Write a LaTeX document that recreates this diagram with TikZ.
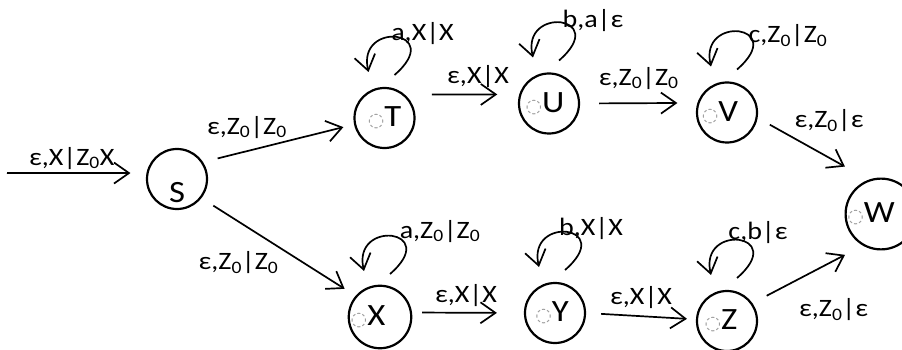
\documentclass[tikz,border=0pt]{standalone}
\usepackage{fontspec}
\setmainfont{Carlito}[FakeStretch=1.12]
\newfontfamily\dotfont{DejaVu Sans}
\usetikzlibrary{positioning, calc, arrows.meta}
\newcommand{\dotc}{{\dotfont\fontsize{19}{19}\selectfont\textcolor{gray!80}{◌}}}
\newcommand{\Zo}{Z\textsubscript{0}}

\begin{document}
\begin{tikzpicture}[x=1pt, y=-1pt,
    st/.style={draw, circle, line width=2.2pt, minimum size=60pt, inner sep=0pt, font=\fontsize{31}{31}\selectfont},
    arr/.style={-{Straight Barb[length=15pt, width=21pt]}, line width=1.7pt},
    lbl/.style={font=\fontsize{25}{25}\selectfont, inner sep=0pt},
    lp/.style={to path={([shift={(10,-43)}]\tikztostart.center) .. controls +(52,-45) and +(-12,-52) .. ([shift={(-16,-46)}]\tikztostart.center) \tikztonodes}},
]
\useasboundingbox (0,0) rectangle (902,350);

% states
\node[st] (S) at (177,179) {\raisebox{-14pt}[\height][\depth]{S}};
\node[st] (T) at (384.5,118) {\dotc T};
\node[st] (U) at (549,103.5) {\dotc U\kern8pt};
\node[st] (V) at (727,112.5) {\dotc V\kern14pt};
\node[st] (W) at (881,214) {\dotc W\kern20pt};
\node[st] (X) at (380,317) {\dotc X\kern24pt};
\node[st] (Y) at (555,313) {\dotc Y\kern6pt};
\node[st] (Z) at (727,321) {\dotc Z\kern12pt};

% start
\coordinate (in) at (7,173);
\draw[arr, shorten >=16pt] (in) -- node[lbl, midway, xshift=-5pt, yshift=15pt] {ε,X|\Zo X} (S.169);

% upper branch
\draw[arr, shorten <=15pt, shorten >=11pt] (S.33) -- node[lbl, pos=.29, yshift=24pt] {ε,\Zo|\Zo} (T.192);
\draw[arr, shorten <=27pt, shorten >=22pt] (T.49) -- node[lbl, midway, xshift=16pt, yshift=18pt] {ε,X|X} (U.163);
\draw[arr, shorten <=19pt, shorten >=20pt] (U.0) -- node[lbl, midway, yshift=25pt] {ε,\Zo|\Zo} (V.162);
\draw[arr, shorten <=14pt, shorten >=27pt] (V.350) -- node[lbl, midway, xshift=16pt, yshift=28pt] {ε,\Zo|ε} (W.110);

% lower branch
\draw[arr, shorten <=14pt, shorten >=13pt] (S.322) -- node[lbl, midway, xshift=-40pt, yshift=-16pt] {ε,\Zo|\Zo} (X.139);
\draw[arr, shorten <=10pt, shorten >=27pt] (X.8) -- node[lbl, midway, xshift=-2pt, yshift=17pt] {ε,X|X} (Y.180);
\draw[arr, shorten <=15pt, shorten >=9pt] (Y.0) -- node[lbl, midway, yshift=19pt] {ε,X|X} (Z.177);
\draw[arr, shorten <=16pt, shorten >=20pt] (Z.35) -- node[lbl, midway, xshift=26pt, yshift=-35pt] {ε,\Zo|ε} (W.240);

% loops
\draw[arr] (T) to[lp] node[lbl, pos=.5, xshift=26pt, yshift=4pt] {a,X|X} (T);
\draw[arr] (U) to[lp] node[lbl, pos=.5, xshift=32pt, yshift=2pt] {b,a|ε} (U);
\draw[arr] (V) to[lp] node[lbl, pos=.5, xshift=49pt, yshift=-4pt] {c,\Zo|\Zo} (V);
\draw[arr] (X) to[lp] node[lbl, pos=.5, xshift=48pt, yshift=5pt] {a,\Zo|\Zo} (X);
\draw[arr] (Y) to[lp] node[lbl, pos=.5, xshift=24pt, yshift=4pt] {b,X|X} (Y);
\draw[arr] (Z) to[lp] node[lbl, pos=.5, xshift=19pt, yshift=8pt] {c,b|ε} (Z);
\end{tikzpicture}
\end{document}
